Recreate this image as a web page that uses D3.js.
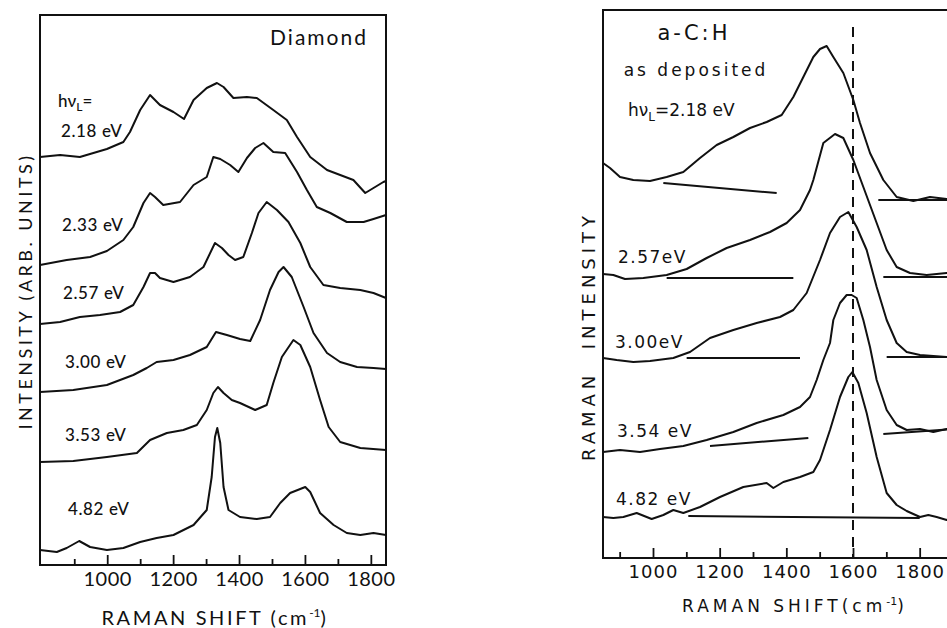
<!DOCTYPE html>
<html>
<head>
<meta charset="utf-8">
<script src="https://cdn.jsdelivr.net/npm/d3@7"></script>
<style>
body { margin: 0; background: #fff; }
svg { display: block; }
</style>
</head>
<body>
<div id="chart"></div>
<script>
// left panel: diamond, [raman shift, stacked intensity]
var diamond218 = [[796,40.8],[857,41.0],[917,40.8],[958,41.2],[999,41.6],[1049,42.3],[1069,43.3],[1100,45.5],[1130,47.0],[1160,46.0],[1201,45.3],[1233,44.6],[1262,46.5],[1302,47.7],[1333,48.2],[1353,47.8],[1383,46.7],[1424,46.8],[1454,46.7],[1504,45.5],[1545,44.5],[1576,42.8],[1616,40.8],[1667,39.5],[1707,39.0],[1747,38.5],[1783,37.2],[1808,37.7],[1838,38.3],[1846,38.4]];
var diamond233 = [[796,30.0],[877,30.5],[948,30.8],[999,31.4],[1049,32.5],[1079,33.8],[1110,36.2],[1130,37.2],[1145,36.8],[1170,36.0],[1221,36.3],[1262,38.0],[1302,38.8],[1322,40.8],[1343,40.6],[1373,40.0],[1398,39.3],[1424,40.7],[1449,41.7],[1474,42.2],[1504,41.3],[1540,41.2],[1576,39.3],[1606,37.5],[1636,35.8],[1677,35.2],[1727,34.3],[1778,34.3],[1808,34.6],[1846,35.0]];
var diamond257 = [[796,24.1],[857,24.3],[917,24.8],[978,25.0],[1039,25.3],[1079,26.0],[1110,27.8],[1130,29.2],[1145,29.2],[1160,28.7],[1201,28.3],[1251,28.8],[1292,29.8],[1327,32.2],[1348,31.7],[1368,31.0],[1388,30.5],[1413,30.8],[1439,33.2],[1459,35.2],[1484,36.3],[1515,35.5],[1550,34.3],[1586,32.2],[1616,29.8],[1656,28.0],[1707,27.7],[1768,27.5],[1808,27.2],[1846,26.7]];
var diamond300 = [[796,17.3],[897,17.5],[999,18.0],[1079,19.0],[1120,19.7],[1150,20.3],[1201,20.5],[1251,21.0],[1302,21.8],[1330,23.3],[1363,23.0],[1403,22.6],[1434,22.4],[1464,24.5],[1494,27.5],[1520,29.3],[1535,29.8],[1560,28.8],[1596,25.8],[1626,23.2],[1667,21.2],[1707,20.3],[1758,19.8],[1808,19.7],[1846,19.6]];
var diamond353 = [[796,10.3],[897,10.4],[999,10.8],[1090,11.2],[1130,12.5],[1181,13.2],[1231,13.5],[1272,14.0],[1302,15.5],[1322,17.2],[1336,17.8],[1353,17.2],[1378,16.5],[1403,16.2],[1449,15.5],[1484,16.0],[1504,18.2],[1530,20.8],[1565,22.5],[1586,22.0],[1616,19.8],[1646,16.5],[1672,13.8],[1707,12.3],[1768,11.7],[1846,11.5]];
var diamond482 = [[796,1.5],[847,1.3],[877,1.7],[915,2.4],[948,1.8],[999,1.5],[1049,1.7],[1100,2.3],[1150,2.7],[1201,3.0],[1262,4.0],[1302,5.5],[1317,8.8],[1327,12.8],[1334,13.7],[1343,12.2],[1353,7.8],[1368,5.5],[1403,4.8],[1454,4.6],[1494,4.8],[1525,6.2],[1555,7.2],[1601,7.8],[1616,7.3],[1646,5.2],[1687,4.0],[1727,3.2],[1768,3.0],[1808,3.2],[1846,3.0]];
var diamondLabels = ["2.18 eV", "2.33 eV", "2.57 eV", "3.00 eV", "3.53 eV", "4.82 eV"];

// right panel: a-C:H as deposited
var acH218 = [[850,39.5],[871,39.0],[901,38.1],[941,37.8],[991,37.7],[1041,38.1],[1091,38.6],[1141,40.0],[1191,41.3],[1241,42.1],[1291,43.0],[1341,43.6],[1386,44.3],[1421,46.1],[1451,48.1],[1481,50.1],[1501,50.9],[1521,51.2],[1541,50.1],[1571,48.5],[1601,45.8],[1621,43.5],[1651,40.5],[1691,37.8],[1731,36.1],[1781,35.7],[1831,36.1],[1881,35.9],[1900,35.9]];
var acH257 = [[850,28.4],[881,28.3],[916,27.9],[971,28.0],[1041,28.3],[1101,28.9],[1161,30.0],[1221,31.0],[1291,31.8],[1351,32.6],[1401,33.5],[1441,34.8],[1471,36.8],[1481,37.8],[1511,41.5],[1546,42.4],[1571,42.0],[1601,39.8],[1631,37.1],[1671,33.5],[1701,30.8],[1731,29.1],[1771,28.5],[1821,28.3],[1881,28.5],[1900,28.4]];
var acH300 = [[850,20.0],[891,19.8],[941,19.6],[991,19.7],[1061,20.0],[1111,20.6],[1171,22.0],[1241,22.8],[1311,23.5],[1381,24.1],[1421,24.8],[1461,26.5],[1501,29.8],[1531,32.5],[1561,34.1],[1586,34.6],[1611,33.1],[1641,30.8],[1671,27.1],[1701,23.8],[1731,21.5],[1761,20.6],[1801,20.3],[1881,20.1],[1900,20.1]];
var acH354 = [[850,10.6],[901,10.8],[961,10.6],[1021,10.9],[1091,11.2],[1161,11.8],[1241,12.6],[1311,13.5],[1391,14.3],[1441,15.1],[1471,16.1],[1491,17.8],[1511,19.8],[1531,21.5],[1541,23.8],[1561,25.5],[1581,26.3],[1596,26.3],[1611,26.0],[1631,23.8],[1651,21.1],[1671,17.8],[1701,14.8],[1731,13.3],[1761,12.8],[1801,12.9],[1841,12.6],[1881,12.9],[1900,12.9]];
var acH482 = [[850,4.1],[881,4.0],[911,4.1],[951,4.5],[996,3.9],[1031,4.3],[1061,4.8],[1091,4.5],[1141,5.1],[1201,6.1],[1271,7.1],[1341,7.5],[1361,7.0],[1391,7.6],[1441,8.1],[1481,8.6],[1501,9.8],[1531,12.8],[1561,16.1],[1586,18.1],[1598,18.6],[1616,17.5],[1641,14.5],[1671,10.1],[1701,6.5],[1731,5.3],[1761,4.7],[1801,4.1],[1826,4.3],[1851,4.1],[1881,3.8],[1900,4.0]];
var acHBaselines = [
    [[1031,37.5],[1371,36.5]], [[1676,35.8],[1900,35.8]],
    [[1041,28.0],[1421,28.0]], [[1691,28.1],[1900,28.1]],
    [[1101,20.0],[1441,20.0]], [[1701,20.1],[1900,20.1]],
    [[1171,11.2],[1466,12.0]], [[1691,12.4],[1900,12.9]],
    [[1106,4.2],[1800,4.0]]
];
var acHLabels = ["2.57eV", "3.00eV", "3.54 eV", "4.82 eV"];
var gPeak = 1600;

var majorTicks = [1000, 1200, 1400, 1600, 1800];
var minorTicks = [900, 1100, 1300, 1500, 1700];

var width = 947, height = 628;
var ink = "#111";

var svg = d3.select("#chart")
    .append("svg")
    .attr("width", width)
    .attr("height", height);

function spectrumLine(x, y) {
    return d3.line()
        .x(function(d) { return x(d[0]); })
        .y(function(d) { return y(d[1]); });
}

function drawTicks(g, x, y0, font, fontSize, spacing) {
    var major = g.append("g")
        .attr("transform", "translate(0," + y0 + ")")
        .call(d3.axisBottom(x).tickValues(majorTicks).tickSizeInner(-10).tickSizeOuter(0).tickPadding(7).tickFormat(d3.format("d")));
    major.select(".domain").remove();
    major.attr("font-family", font).attr("font-size", fontSize);
    major.selectAll("text").attr("fill", ink).attr("letter-spacing", spacing);
    major.selectAll("line").attr("stroke", ink).attr("stroke-width", 1.8);

    var minor = g.append("g")
        .attr("transform", "translate(0," + y0 + ")")
        .call(d3.axisBottom(x).tickValues(minorTicks).tickSizeInner(-6).tickSizeOuter(0).tickFormat(""));
    minor.select(".domain").remove();
    minor.selectAll("line").attr("stroke", ink).attr("stroke-width", 1.8);
}

// ---------- left panel ----------
var xL = d3.scaleLinear().domain([796, 1846]).range([40, 386]);
var yL = d3.scaleLinear().domain([0, 55]).range([565, 15]);

var left = svg.append("g").attr("font-family", "Lato, sans-serif").attr("fill", ink);

left.append("rect")
    .attr("x", 40).attr("y", 15)
    .attr("width", 346).attr("height", 550)
    .attr("fill", "none").attr("stroke", ink).attr("stroke-width", 2);

drawTicks(left, xL, 565, "Lato, sans-serif", 20, 0.5);

left.selectAll("path.spec")
    .data([diamond218, diamond233, diamond257, diamond300, diamond353, diamond482])
    .enter()
    .append("path")
    .attr("class", "spec")
    .attr("d", spectrumLine(xL, yL))
    .attr("fill", "none")
    .attr("stroke", ink)
    .attr("stroke-width", 2)
    .attr("stroke-linejoin", "round");

var dLabelPos = [[61, 137], [62, 231], [63, 299], [65, 368], [65, 441], [68, 515]];
left.selectAll("text.elabel")
    .data(diamondLabels)
    .enter()
    .append("text")
    .attr("class", "elabel")
    .attr("x", function(d, i) { return dLabelPos[i][0]; })
    .attr("y", function(d, i) { return dLabelPos[i][1]; })
    .attr("font-size", 17)
    .attr("font-weight", 500)
    .attr("letter-spacing", 0.6)
    .text(function(d) { return d; });

var hv = left.append("text").attr("x", 58).attr("y", 107).attr("font-size", 17).attr("font-weight", 500);
hv.append("tspan").text("hν");
hv.append("tspan").attr("font-size", 12).attr("dy", 4).text("L");
hv.append("tspan").attr("dy", -4).text("=");

left.append("text")
    .attr("x", 368).attr("y", 45)
    .attr("text-anchor", "end")
    .attr("font-size", 21)
    .attr("letter-spacing", 2)
    .text("Diamond");

var xtL = left.append("text")
    .attr("x", 215).attr("y", 625)
    .attr("text-anchor", "middle")
    .attr("font-size", 20)
    .attr("letter-spacing", 2.6);
xtL.append("tspan").text("RAMAN SHIFT (cm");
xtL.append("tspan").attr("font-size", 12).attr("dy", -8).attr("letter-spacing", 0).text("-1");
xtL.append("tspan").attr("dy", 8).text(")");

left.append("text")
    .attr("transform", "translate(32,291) rotate(-90)")
    .attr("text-anchor", "middle")
    .attr("font-size", 18)
    .attr("letter-spacing", 3.5)
    .text("INTENSITY (ARB. UNITS)");

// ---------- right panel ----------
var xR = d3.scaleLinear().domain([850, 1900]).range([603, 953]);
var yR = d3.scaleLinear().domain([0, 54.8]).range([558, 10]);

var right = svg.append("g").attr("font-family", "'DejaVu Sans', sans-serif").attr("fill", ink);

right.append("rect")
    .attr("x", 603).attr("y", 10)
    .attr("width", 360).attr("height", 548)
    .attr("fill", "none").attr("stroke", ink).attr("stroke-width", 2);

drawTicks(right, xR, 558, "'DejaVu Sans', sans-serif", 18, 1);

right.append("line")
    .attr("x1", xR(gPeak)).attr("x2", xR(gPeak))
    .attr("y1", 27).attr("y2", 558)
    .attr("stroke", ink).attr("stroke-width", 2)
    .attr("stroke-dasharray", "10,7");

right.selectAll("path.base")
    .data(acHBaselines)
    .enter()
    .append("path")
    .attr("class", "base")
    .attr("d", spectrumLine(xR, yR))
    .attr("fill", "none")
    .attr("stroke", ink)
    .attr("stroke-width", 2);

right.selectAll("path.spec")
    .data([acH218, acH257, acH300, acH354, acH482])
    .enter()
    .append("path")
    .attr("class", "spec")
    .attr("d", spectrumLine(xR, yR))
    .attr("fill", "none")
    .attr("stroke", ink)
    .attr("stroke-width", 2)
    .attr("stroke-linejoin", "round");

var rLabelPos = [[618, 263], [615, 348], [617, 437], [616, 505]];
right.selectAll("text.elabel")
    .data(acHLabels)
    .enter()
    .append("text")
    .attr("class", "elabel")
    .attr("x", function(d, i) { return rLabelPos[i][0]; })
    .attr("y", function(d, i) { return rLabelPos[i][1]; })
    .attr("font-size", 17)
    .attr("letter-spacing", 1.5)
    .text(function(d) { return d; });

right.append("text")
    .attr("x", 694).attr("y", 40)
    .attr("text-anchor", "middle")
    .attr("font-size", 21)
    .attr("letter-spacing", 3)
    .text("a-C:H");

right.append("text")
    .attr("x", 696).attr("y", 76)
    .attr("text-anchor", "middle")
    .attr("font-size", 17)
    .attr("letter-spacing", 3)
    .text("as deposited");

var hvR = right.append("text").attr("x", 628).attr("y", 116).attr("font-size", 17);
hvR.append("tspan").text("hν");
hvR.append("tspan").attr("font-size", 12).attr("dy", 5).text("L");
hvR.append("tspan").attr("dy", -5).text("=2.18 eV");

var xtR = right.append("text")
    .attr("x", 795).attr("y", 612)
    .attr("text-anchor", "middle")
    .attr("font-size", 17)
    .attr("letter-spacing", 4);
xtR.append("tspan").text("RAMAN  SHIFT(cm");
xtR.append("tspan").attr("font-size", 11).attr("dy", -7).attr("letter-spacing", 0).text("-1");
xtR.append("tspan").attr("dy", 7).text(")");

right.append("text")
    .attr("transform", "translate(595,336) rotate(-90)")
    .attr("text-anchor", "middle")
    .attr("font-size", 18)
    .attr("letter-spacing", 5)
    .attr("xml:space", "preserve")
    .text("RAMAN  INTENSITY");
</script>
</body>
</html>
